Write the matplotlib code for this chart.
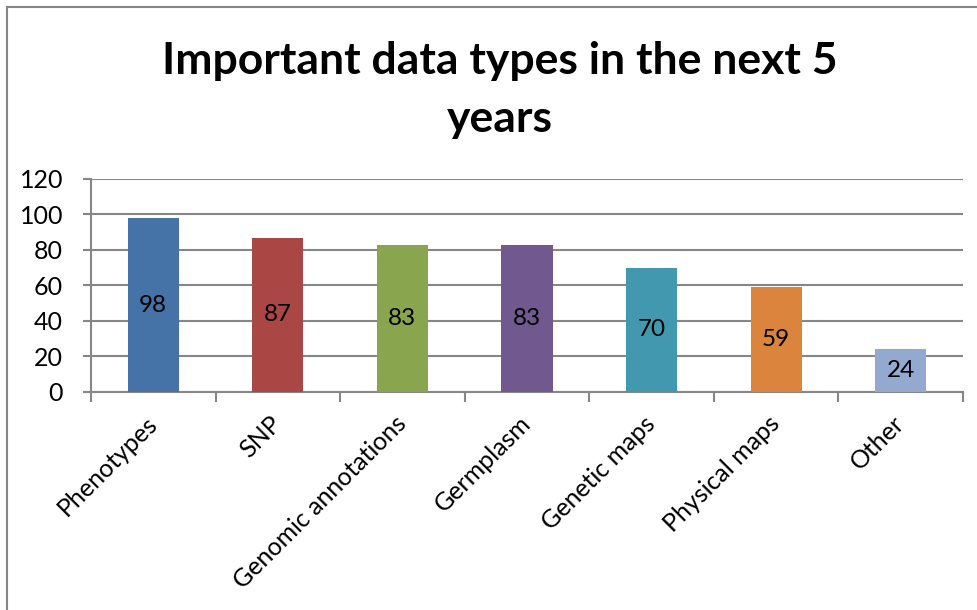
import matplotlib.pyplot as plt
from matplotlib.lines import Line2D

# Survey counts per data type
categories = ['Phenotypes', 'SNP', 'Genomic annotations', 'Germplasm',
              'Genetic maps', 'Physical maps', 'Other']
counts = [98, 87, 83, 83, 70, 59, 24]
bar_colors = ['#4572A7', '#AA4643', '#89A54E', '#71588F',
              '#4198AF', '#DB843D', '#93A9CF']
y_ticks = [0, 20, 40, 60, 80, 100, 120]

plt.rcParams['font.family'] = ['Lato', 'DejaVu Sans']

fig = plt.figure(figsize=(9.78, 6.10), dpi=100)
ax = fig.add_axes([0.093, 0.3574, 0.8917, 0.3492])

x = list(range(len(categories)))
bars = ax.bar(x, counts, width=0.41, color=bar_colors, zorder=3)

# Value labels in the middle of each bar
for rect, val in zip(bars, counts):
    ax.text(rect.get_x() + rect.get_width() / 2, val / 2, str(val),
            ha='center', va='center', fontsize=17.5, color='black', zorder=4)

ax.set_xlim(-0.5, len(categories) - 0.5)
ax.set_ylim(0, 120)
ax.set_yticks(y_ticks)
ax.tick_params(axis='y', labelsize=18, length=6, width=1.5, color='#868686', pad=14)
ax.yaxis.grid(True, color='#868686', linewidth=1.5, zorder=0)

# Category ticks sit on the boundaries, labels at the centres
ax.set_xticks([i - 0.5 for i in range(len(categories) + 1)])
ax.set_xticklabels([])
ax.set_xticks(x, minor=True)
ax.set_xticklabels(categories, minor=True, rotation=45, ha='right', va='center',
                   rotation_mode='anchor', fontsize=18)
ax.tick_params(axis='x', which='major', length=7, width=1.5, color='#868686')
ax.tick_params(axis='x', which='minor', length=0, pad=20)

for side in ['top', 'right']:
    ax.spines[side].set_visible(False)
for side in ['left', 'bottom']:
    ax.spines[side].set_color('#868686')
    ax.spines[side].set_linewidth(1.5)

fig.text(0.511, 0.852, 'Important data types in the next 5\nyears',
         ha='center', va='center', fontsize=32, fontweight='bold',
         linespacing=1.55)

# Chart frame
fig.add_artist(Line2D([0.0072, 0.0072], [0.0, 0.9885], color='#868686', lw=1.5))
fig.add_artist(Line2D([0.0072, 1.0], [0.9885, 0.9885], color='#868686', lw=1.5))

fig.savefig('out.png', dpi=100)
